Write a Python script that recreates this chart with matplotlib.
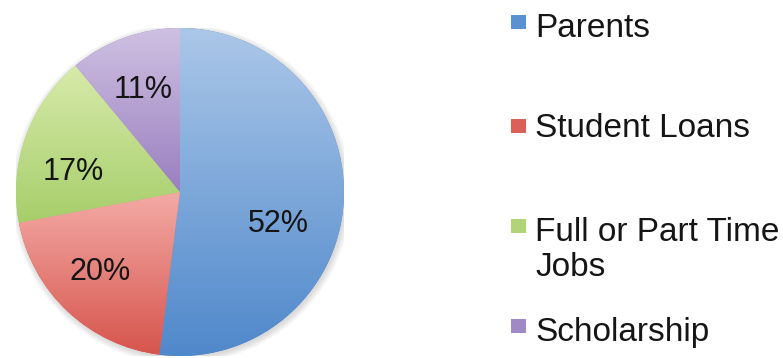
import numpy as np
import matplotlib
matplotlib.use("Agg")
import matplotlib.pyplot as plt
from matplotlib.patches import Rectangle, Circle
from matplotlib.colors import LinearSegmentedColormap

# Funding sources (percent)
categories = ["Parents", "Student Loans", "Full or Part Time\nJobs", "Scholarship"]
shares = [52, 20, 17, 11]

# Slice shading: light at the top, deeper at the bottom
top_colors = ["#abc7e8", "#f4aaa6", "#d7eaaa", "#cfc1e2"]
bottom_colors = ["#4f88cb", "#d6554d", "#a6ce6a", "#9a7fc0"]
legend_colors = ["#5a91d2", "#dc5f58", "#b0d476", "#a08ac6"]

W, H = 783, 358
fig = plt.figure(figsize=(W / 100, H / 100), dpi=100)
fig.patch.set_facecolor("white")

cx, cy, r = 180, 192, 164
ax = fig.add_axes([(cx - r) / W, (H - cy - r) / H, 2 * r / W, 2 * r / H])

# faint drop shadow around the pie
for k in range(6):
    ax.add_patch(Circle((0.008, -0.012), 1 + 0.007 * k, color="#808080",
                        alpha=0.05, lw=0, zorder=0))

wedges, _, autotexts = ax.pie(
    shares, startangle=90, counterclock=False, radius=1, center=(0, 0),
    autopct=lambda p: f"{p:.0f}%", pctdistance=0.67,
    textprops=dict(fontsize=22, family="Liberation Sans", color="#151515"),
    wedgeprops=dict(linewidth=0),
)

grad = np.linspace(0, 1, 256).reshape(-1, 1)
for w, c0, c1 in zip(wedges, top_colors, bottom_colors):
    w.set_facecolor(c1)
    w.set_zorder(1)
    bb = w.get_path().get_extents()
    cmap = LinearSegmentedColormap.from_list("shade", [c0, c1])
    im = ax.imshow(grad, cmap=cmap, origin="upper", aspect="auto",
                   extent=(bb.x0, bb.x1, bb.y0, bb.y1), zorder=2,
                   interpolation="bilinear")
    im.set_clip_path(w)

# value labels, placed where each fits best inside its slice
label_pos = [(0.598, -0.244), (-0.488, -0.537), (-0.652, 0.073), (-0.226, 0.573)]
for t, (x, y) in zip(autotexts, label_pos):
    t.set_position((x, y))
    t.set_ha("center")
    t.set_va("baseline")
    t.set_zorder(5)

ax.set_xlim(-1, 1)
ax.set_ylim(-1, 1)
ax.set_aspect("equal")
ax.axis("off")

# legend on the right; wrapped labels continue on following lines
marker_tops = [15, 119, 219, 319]
baselines = [37, 137, 241, 341]
line_pitch = 35
for lab, col, mt, bl in zip(categories, legend_colors, marker_tops, baselines):
    fig.patches.append(Rectangle((511 / W, 1 - (mt + 14) / H), 15 / W, 14 / H,
                                 transform=fig.transFigure, facecolor=col,
                                 edgecolor="none"))
    for i, line in enumerate(lab.split("\n")):
        fig.text(535 / W, 1 - (bl + i * line_pitch) / H, line, fontsize=24,
                 family="Liberation Sans", color="#151515",
                 ha="left", va="baseline")

fig.savefig("out.png", dpi=100, facecolor="white")
